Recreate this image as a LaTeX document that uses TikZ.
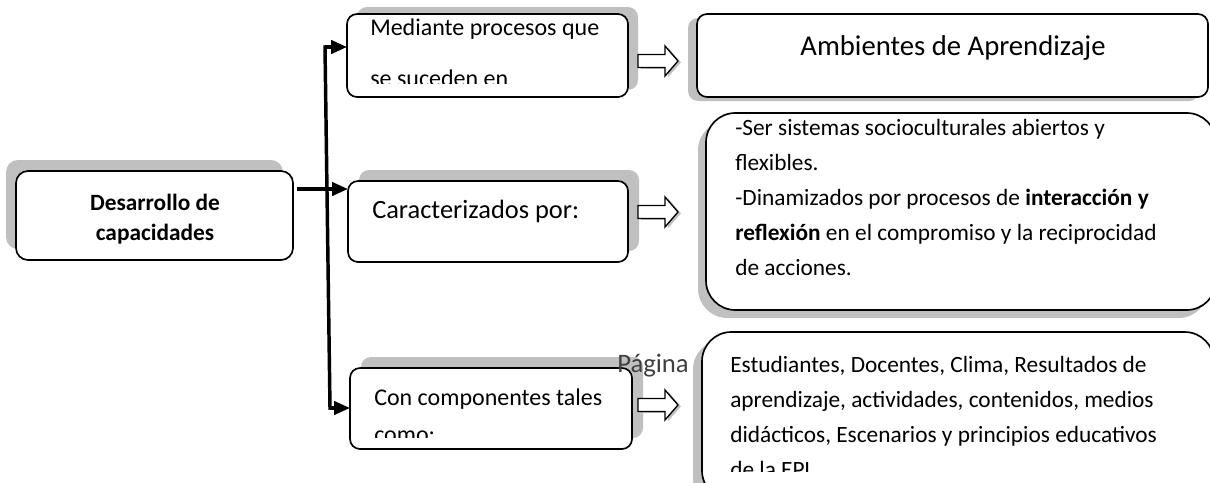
\documentclass[tikz,border=0pt]{standalone}
\usepackage{fontspec}
\setmainfont{Carlito}
\usetikzlibrary{arrows.meta,shadows,calc}
\definecolor{shadowc}{HTML}{C0C0C0}
\definecolor{pagec}{HTML}{404040}
\begin{document}
\begin{tikzpicture}[x=0.75pt,y=-0.75pt,
  box/.style={draw, line width=1.25pt, fill=white, rounded corners=7.5pt, inner sep=0pt, outer sep=0pt},
  shad/.style 2 args={drop shadow={shadow xshift=#1, shadow yshift=#2, fill=shadowc, opacity=1}},
  conn/.style={line width=2.6pt},
  arr/.style={conn, -{Triangle[length=12pt,width=10pt]}},
  txt/.style={inner sep=0pt, anchor=base west},
  harrow/.style={draw, line width=1pt, fill=white, line join=miter, shad={2.2pt}{-1pt}},
  fbody/.style={font=\fontsize{17.5}{21}\selectfont},
  fmid/.style={font=\fontsize{18}{21}\selectfont},
  fbig/.style={font=\fontsize{19.8}{23}\selectfont},
  ftitle/.style={font=\fontsize{21.5}{25}\selectfont},
  fbold/.style={font=\fontsize{17.5}{21}\selectfont\bfseries}]
\clip (0,0) rectangle (1210,482);
\fill[white] (0,0) rectangle (1210,482);

% boxes
\node[box, rounded corners=9pt, minimum width=207.75pt, minimum height=66.75pt, shad={-7.5pt}{8.25pt}] (A) at (154.5,215.5) {};
\node[box, minimum width=210.75pt, minimum height=62.25pt, shad={7.5pt}{5.25pt}] (B) at (487.5,55.5) {};
\node[box, minimum width=210pt, minimum height=60.75pt, shad={8.25pt}{8.25pt}] (C) at (488,221.5) {};
\node[box, minimum width=211.5pt, minimum height=60.75pt, shad={8.25pt}{8.25pt}] (D) at (491,408.5) {};
\node[box, minimum width=383.25pt, minimum height=62.25pt, shad={-6.75pt}{-3pt}] (E) at (952.5,55.5) {};
\node[box, rounded corners=22pt, minimum width=382.5pt, minimum height=147.75pt, shad={-6pt}{-6pt}] (F) at (961,211.5) {};
\node[box, rounded corners=22pt, minimum width=384pt, minimum height=126pt, shad={-6.75pt}{-6pt}] (G) at (958,416) {};

% texts
\node[fbold, inner sep=0pt, anchor=base] (A1) at (155,210) {Desarrollo de};
\node[fbold, inner sep=0pt, anchor=base] (A2) at (155,240) {capacidades};
\begin{scope}
  \clip (B.north west) rectangle ($(B.south east)+(0,-14)$);
  \node[txt, fmid] (B1) at (370,35) {Mediante procesos que};
  \node[txt, fmid] (B2) at (370,86) {se suceden en};
\end{scope}
\node[txt, fbig] (C1) at (372,218) {Caracterizados por:};
\begin{scope}
  \clip (D.north west) rectangle ($(D.south east)+(0,-12)$);
  \node[txt, fmid] (D1) at (374,405) {Con componentes tales};
  \node[txt, fmid] (D2) at (374,442) {como:};
\end{scope}
\node[ftitle, inner sep=0pt, anchor=base] (E1) at (953,55) {Ambientes de Aprendizaje};
\node[txt, fbody] (F1) at (735,135) {-Ser sistemas socioculturales abiertos y};
\node[txt, fbody] (F2) at (735,170) {flexibles.};
\node[txt, fbody] (F3) at (735,205) {-Dinamizados por procesos de \textbf{interacción y}};
\node[txt, fbody] (F4) at (735,240) {\textbf{reflexión} en el compromiso y la reciprocidad};
\node[txt, fbody] (F5) at (735,275) {de acciones.};
\begin{scope}
  \clip (702,332) rectangle (1214,471);
  \node[txt, fbody] (G1) at (730,372) {Estudiantes, Docentes, Clima, Resultados de};
  \node[txt, fbody] (G2) at (730,407) {aprendizaje, actividades, contenidos, medios};
  \node[txt, fbody] (G3) at (730,442) {didácticos, Escenarios y principios educativos};
  \node[txt, fbody] (G4) at (730,477) {de la EPL.};
\end{scope}

% connectors
\coordinate (j1) at (325,47);
\coordinate (j2) at (327,189);
\coordinate (j3) at (330,408);
\draw[conn, line cap=rect] (j1) -- (j3);
\draw[arr] (j1) -- (j1 -| B.west);
\draw[arr, shorten <=3pt] (j2 -| A.east) -- (j2 -| C.west);
\draw[arr] (j3) -- (j3 -| D.west);

% hollow arrows
\coordinate (hb) at (638,61);
\coordinate (hc) at (638,212);
\coordinate (hd) at (638,405);
\foreach \h in {hb,hc,hd}{
  \draw[harrow] (\h) ++(0,-6.5) -- ++(27,0) -- ++(0,-8.5) -- ++(13,15) -- ++(-13,15) -- ++(0,-8.5) -- ++(-27,0) -- cycle;
}

% page footer text
\node[txt, text=pagec, font=\fontsize{20}{24}\selectfont] (pg) at (617,372) {Página};
\end{tikzpicture}
\end{document}
